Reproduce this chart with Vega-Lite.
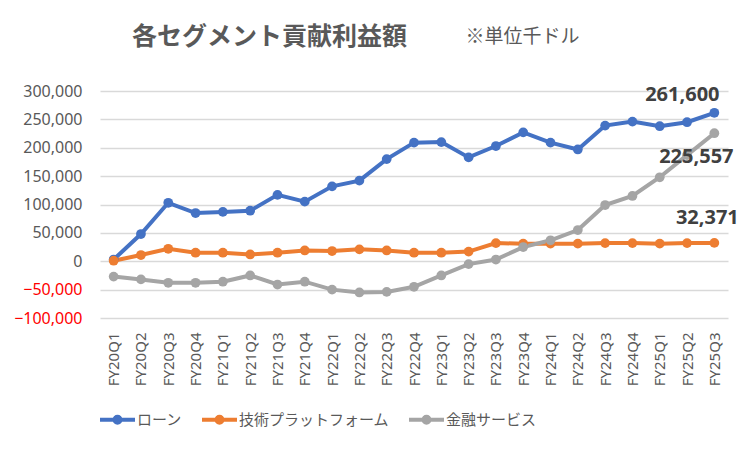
{
  "$schema": "https://vega.github.io/schema/vega-lite/v6.json",
  "width": 628,
  "height": 227,
  "autosize": {"type": "none"},
  "padding": {"left": 100, "top": 91, "right": 24, "bottom": 133},
  "background": "white",
  "title": {
    "text": "各セグメント貢献利益額",
    "anchor": "start",
    "frame": "group",
    "dx": 32,
    "offset": -23,
    "font": "Noto Sans CJK JP",
    "fontSize": 25,
    "fontWeight": "bold",
    "color": "#595959"
  },
  "config": {
    "view": {"stroke": null},
    "axis": {
      "labelFont": "Noto Sans",
      "labelFontSize": 15,
      "labelColor": "#595959",
      "domain": false,
      "ticks": false
    }
  },
  "data": {
    "values": [
      {"q": "FY20Q1", "series": "ローン", "value": 3000},
      {"q": "FY20Q2", "series": "ローン", "value": 48000},
      {"q": "FY20Q3", "series": "ローン", "value": 103000},
      {"q": "FY20Q4", "series": "ローン", "value": 85000},
      {"q": "FY21Q1", "series": "ローン", "value": 87000},
      {"q": "FY21Q2", "series": "ローン", "value": 89000},
      {"q": "FY21Q3", "series": "ローン", "value": 117000},
      {"q": "FY21Q4", "series": "ローン", "value": 105000},
      {"q": "FY22Q1", "series": "ローン", "value": 132000},
      {"q": "FY22Q2", "series": "ローン", "value": 142000},
      {"q": "FY22Q3", "series": "ローン", "value": 180000},
      {"q": "FY22Q4", "series": "ローン", "value": 209000},
      {"q": "FY23Q1", "series": "ローン", "value": 210000},
      {"q": "FY23Q2", "series": "ローン", "value": 183000},
      {"q": "FY23Q3", "series": "ローン", "value": 203000},
      {"q": "FY23Q4", "series": "ローン", "value": 227000},
      {"q": "FY24Q1", "series": "ローン", "value": 209000},
      {"q": "FY24Q2", "series": "ローン", "value": 197000},
      {"q": "FY24Q3", "series": "ローン", "value": 239000},
      {"q": "FY24Q4", "series": "ローン", "value": 246000},
      {"q": "FY25Q1", "series": "ローン", "value": 238000},
      {"q": "FY25Q2", "series": "ローン", "value": 245000},
      {"q": "FY25Q3", "series": "ローン", "value": 261600},
      {"q": "FY20Q1", "series": "技術プラットフォーム", "value": 1000},
      {"q": "FY20Q2", "series": "技術プラットフォーム", "value": 11000},
      {"q": "FY20Q3", "series": "技術プラットフォーム", "value": 22000},
      {"q": "FY20Q4", "series": "技術プラットフォーム", "value": 15000},
      {"q": "FY21Q1", "series": "技術プラットフォーム", "value": 15000},
      {"q": "FY21Q2", "series": "技術プラットフォーム", "value": 12000},
      {"q": "FY21Q3", "series": "技術プラットフォーム", "value": 15000},
      {"q": "FY21Q4", "series": "技術プラットフォーム", "value": 19000},
      {"q": "FY22Q1", "series": "技術プラットフォーム", "value": 18000},
      {"q": "FY22Q2", "series": "技術プラットフォーム", "value": 21000},
      {"q": "FY22Q3", "series": "技術プラットフォーム", "value": 19000},
      {"q": "FY22Q4", "series": "技術プラットフォーム", "value": 15000},
      {"q": "FY23Q1", "series": "技術プラットフォーム", "value": 15000},
      {"q": "FY23Q2", "series": "技術プラットフォーム", "value": 17000},
      {"q": "FY23Q3", "series": "技術プラットフォーム", "value": 32000},
      {"q": "FY23Q4", "series": "技術プラットフォーム", "value": 31000},
      {"q": "FY24Q1", "series": "技術プラットフォーム", "value": 31000},
      {"q": "FY24Q2", "series": "技術プラットフォーム", "value": 31000},
      {"q": "FY24Q3", "series": "技術プラットフォーム", "value": 32000},
      {"q": "FY24Q4", "series": "技術プラットフォーム", "value": 32000},
      {"q": "FY25Q1", "series": "技術プラットフォーム", "value": 31000},
      {"q": "FY25Q2", "series": "技術プラットフォーム", "value": 32000},
      {"q": "FY25Q3", "series": "技術プラットフォーム", "value": 32371},
      {"q": "FY20Q1", "series": "金融サービス", "value": -27000},
      {"q": "FY20Q2", "series": "金融サービス", "value": -32000},
      {"q": "FY20Q3", "series": "金融サービス", "value": -38000},
      {"q": "FY20Q4", "series": "金融サービス", "value": -38000},
      {"q": "FY21Q1", "series": "金融サービス", "value": -36000},
      {"q": "FY21Q2", "series": "金融サービス", "value": -25000},
      {"q": "FY21Q3", "series": "金融サービス", "value": -41000},
      {"q": "FY21Q4", "series": "金融サービス", "value": -36000},
      {"q": "FY22Q1", "series": "金融サービス", "value": -50000},
      {"q": "FY22Q2", "series": "金融サービス", "value": -55000},
      {"q": "FY22Q3", "series": "金融サービス", "value": -54000},
      {"q": "FY22Q4", "series": "金融サービス", "value": -45000},
      {"q": "FY23Q1", "series": "金融サービス", "value": -25000},
      {"q": "FY23Q2", "series": "金融サービス", "value": -5000},
      {"q": "FY23Q3", "series": "金融サービス", "value": 3000},
      {"q": "FY23Q4", "series": "金融サービス", "value": 25000},
      {"q": "FY24Q1", "series": "金融サービス", "value": 37000},
      {"q": "FY24Q2", "series": "金融サービス", "value": 55000},
      {"q": "FY24Q3", "series": "金融サービス", "value": 99000},
      {"q": "FY24Q4", "series": "金融サービス", "value": 115000},
      {"q": "FY25Q1", "series": "金融サービス", "value": 148000},
      {"q": "FY25Q2", "series": "金融サービス", "value": 187000},
      {"q": "FY25Q3", "series": "金融サービス", "value": 225557}
    ]
  },
  "encoding": {
    "x": {
      "field": "q",
      "type": "ordinal",
      "title": null,
      "scale": {"type": "point", "padding": 0.5},
      "axis": {"labelAngle": -90, "labelPadding": 14}
    },
    "y": {
      "field": "value",
      "type": "quantitative",
      "title": "※単位千ドル",
      "scale": {"domain": [-100000, 300000], "nice": false, "zero": false},
      "axis": {
        "values": [-100000, -50000, 0, 50000, 100000, 150000, 200000, 250000, 300000],
        "format": ",d",
        "labelFontSize": 16,
        "labelPadding": 18,
        "gridColor": "#D9D9D9",
        "gridWidth": 1.3,
        "labelColor": {"condition": {"test": "datum.value < 0", "value": "#FF0000"}, "value": "#595959"},
        "titleAngle": 0,
        "titleAlign": "left",
        "titleBaseline": "alphabetic",
        "titleX": 365,
        "titleY": -49,
        "titleFont": "Noto Sans CJK JP",
        "titleFontSize": 19,
        "titleFontWeight": "normal",
        "titleColor": "#595959"
      }
    }
  },
  "layer": [
    {
      "mark": {"type": "line", "strokeWidth": 4, "point": {"filled": true, "size": 95, "opacity": 1}},
      "encoding": {
        "color": {
          "field": "series",
          "type": "nominal",
          "scale": {
            "domain": ["ローン", "技術プラットフォーム", "金融サービス"],
            "range": ["#4472C4", "#ED7D31", "#A5A5A5"]
          },
          "legend": {
            "title": null,
            "orient": "none",
            "direction": "horizontal",
            "legendX": -2,
            "legendY": 309,
            "symbolType": "M-1,0H1M-0.17,0A0.17,0.17,0,1,1,0.17,0A0.17,0.17,0,1,1,-0.17,0",
            "symbolSize": 1225,
            "symbolStrokeWidth": 4,
            "labelFont": "Noto Sans CJK JP",
            "labelFontSize": 15,
            "labelColor": "#595959",
            "labelOffset": 0,
            "columnPadding": 11
          }
        }
      }
    },
    {
      "transform": [{"filter": "datum.q === 'FY25Q3' && datum.series === 'ローン'"}],
      "mark": {"type": "text", "font": "Noto Sans", "fontSize": 20, "fontWeight": "bold", "color": "#404040", "dx": -32, "dy": -18},
      "encoding": {"text": {"field": "value", "type": "quantitative", "format": ",d"}}
    },
    {
      "transform": [{"filter": "datum.q === 'FY25Q3' && datum.series === '金融サービス'"}],
      "mark": {"type": "text", "font": "Noto Sans", "fontSize": 20, "fontWeight": "bold", "color": "#404040", "dx": -18, "dy": 24},
      "encoding": {"text": {"field": "value", "type": "quantitative", "format": ",d"}}
    },
    {
      "transform": [{"filter": "datum.q === 'FY25Q3' && datum.series === '技術プラットフォーム'"}],
      "mark": {"type": "text", "font": "Noto Sans", "fontSize": 20, "fontWeight": "bold", "color": "#404040", "dx": -7, "dy": -25},
      "encoding": {"text": {"field": "value", "type": "quantitative", "format": ",d"}}
    }
  ]
}
